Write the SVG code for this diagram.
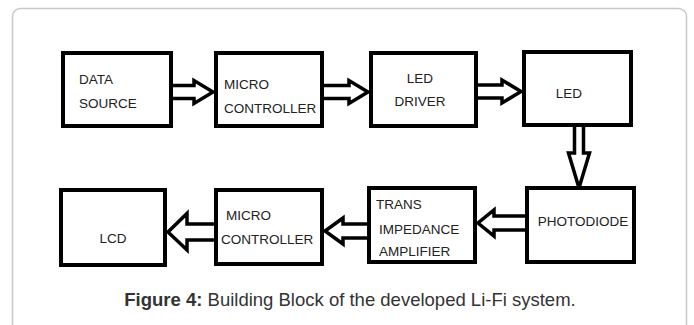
<svg xmlns="http://www.w3.org/2000/svg" width="694" height="325" viewBox="0 0 694 325">
<style>
.frame{fill:#fff;stroke:#c8c8c8;stroke-width:1.5}
.box{fill:#fff;stroke:#000;stroke-width:4}
.arr{fill:#fff;stroke:#000;stroke-width:3.5;stroke-linejoin:miter}
.lbl{font-family:"Liberation Sans",Arial,sans-serif;font-size:13.5px;fill:#222}
.cap{font-family:"Liberation Sans",Arial,sans-serif;font-size:18.5px;fill:#333}
</style>
<rect width="694" height="325" fill="#fff"/>
<rect class="frame" x="12.5" y="8.5" width="674" height="330" rx="8"/>
<g id="connectors">
<polygon class="arr" points="171,85.5 194,85.5 194,80.5 213,92 194,103.5 194,98.5 171,98.5"/>
<polygon class="arr" points="322,85.5 349,85.5 349,80.5 368,92 349,103.5 349,98.5 322,98.5"/>
<polygon class="arr" points="476,85 502,85 502,80 521,91.5 502,103 502,98 476,98"/>
<polygon class="arr" points="574.5,125 574.5,153 568.5,153 579,188 589.5,153 583.5,153 583.5,125"/>
<polygon class="arr" points="527,216 494,216 494,210 478,223 494,236 494,230 527,230"/>
<polygon class="arr" points="369,224 343,224 343,218 325,231 343,244 343,238 369,238"/>
<polygon class="arr" points="216,224 187,224 187,213.5 168,232 187,250 187,240 216,240"/>
</g>
<g id="data-source">
<rect class="box" x="63" y="53" width="108" height="73"/>
<text class="lbl" x="79" y="84">DATA</text>
<text class="lbl" x="79" y="108">SOURCE</text>
</g>
<g id="micro-controller-tx">
<rect class="box" x="216" y="53" width="106" height="73"/>
<text class="lbl" x="224" y="89">MICRO</text>
<text class="lbl" x="224" y="113">CONTROLLER</text>
</g>
<g id="led-driver">
<rect class="box" x="371" y="53" width="105" height="73"/>
<text class="lbl" x="420" y="83" text-anchor="middle">LED</text>
<text class="lbl" x="420" y="106" text-anchor="middle">DRIVER</text>
</g>
<g id="led">
<rect class="box" x="524" y="52" width="107" height="73"/>
<text class="lbl" x="569" y="98" text-anchor="middle">LED</text>
</g>
<g id="photodiode">
<rect class="box" x="527" y="188" width="107" height="74"/>
<text class="lbl" x="583" y="226" text-anchor="middle">PHOTODIODE</text>
</g>
<g id="trans-impedance-amplifier">
<rect class="box" x="369" y="188" width="106" height="74"/>
<text class="lbl" x="376" y="209">TRANS</text>
<text class="lbl" x="379" y="234">IMPEDANCE</text>
<text class="lbl" x="379" y="256">AMPLIFIER</text>
</g>
<g id="micro-controller-rx">
<rect class="box" x="216" y="190" width="106" height="74"/>
<text class="lbl" x="226" y="220">MICRO</text>
<text class="lbl" x="221" y="244">CONTROLLER</text>
</g>
<g id="lcd">
<rect class="box" x="61" y="190" width="104" height="75"/>
<text class="lbl" x="113" y="243" text-anchor="middle">LCD</text>
</g>
<text class="cap" x="350" y="306" text-anchor="middle"><tspan font-weight="bold">Figure 4:</tspan> Building Block of the developed Li-Fi system.</text>
</svg>
